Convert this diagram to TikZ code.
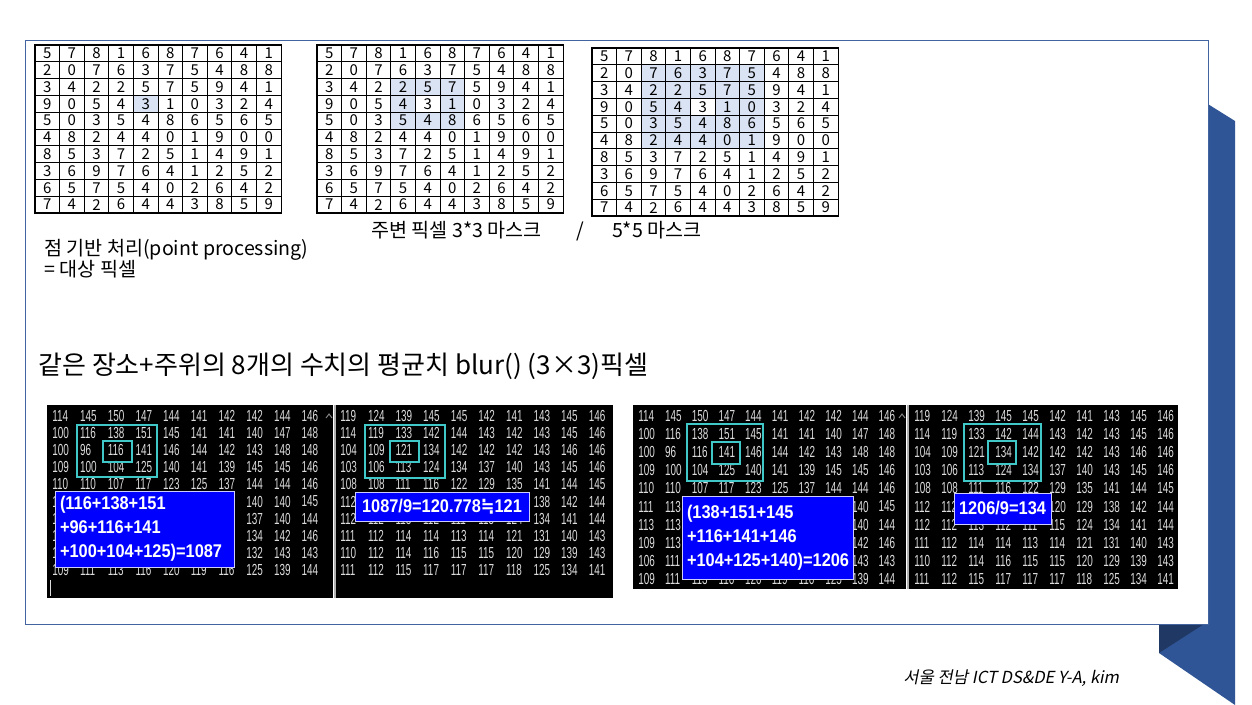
\documentclass[tikz,border=0pt]{standalone}
\usepackage{fontspec}
\setmainfont{Noto Sans CJK KR}
\newfontfamily\consfont[FakeStretch=0.62]{Liberation Sans}
\newfontfamily\boxfont[FakeStretch=0.89]{Liberation Sans}
\newfontfamily\symfont[FakeStretch=0.89]{DejaVu Sans}
\newfontfamily\footfont[FakeSlant=0.2]{Noto Sans CJK KR}
\usetikzlibrary{backgrounds}

\definecolor{slideblue}{RGB}{47,85,151}
\definecolor{slidedark}{RGB}{31,56,100}
\definecolor{framecol}{RGB}{68,100,160}
\definecolor{maskfill}{RGB}{218,227,243}
\definecolor{conscyan}{RGB}{64,200,200}
\definecolor{consgray}{RGB}{220,220,220}

\begin{document}
\begin{tikzpicture}[x=0.5pt, y=-0.5pt,
	cell/.style={draw, line width=0.4pt, inner sep=0pt, minimum width=12.3pt, minimum height=8.4pt, font=\fontsize{7.5}{8}\selectfont},
	num/.style={anchor=west, inner sep=0pt, text=consgray, font=\consfont\fontsize{8}{8}\selectfont},
	winbox/.style={draw=conscyan, line width=1pt},
	sumbox/.style={fill=blue, draw=white!80!blue, line width=0.5pt, text=white, inner sep=2.5pt, font=\boxfont\bfseries\fontsize{9.2}{12}\selectfont},
	lbl/.style={anchor=west, inner sep=0pt, font=\fontsize{9.8}{10}\selectfont}]
	\useasboundingbox (0,0) rectangle (1252,705);

	% Slide {page, ribbon, frame}
	\begin{scope}[on background layer]
		\fill[white] (0,0) rectangle (1252,705);
		\fill[slideblue] (1150,68) -- (1235,121) -- (1235,705) -- (1159,653) -- (1159,600) -- cycle;
		\fill[slidedark] (1159,624) -- (1204,624) -- (1159,653) -- cycle;
		\draw[framecol, line width=0.5pt, fill=white] (25,41) rectangle (1208,624);
	\end{scope}

	% Pixel grids {ga, gb, gc}
	\foreach \g/\gx/\gy in {ga/35/45, gb/317/45, gc/592/48} {
		\foreach \row [count=\r from 0] in {{5,7,8,1,6,8,7,6,4,1}, {2,0,7,6,3,7,5,4,8,8},
			{3,4,2,2,5,7,5,9,4,1}, {9,0,5,4,3,1,0,3,2,4}, {5,0,3,5,4,8,6,5,6,5},
			{4,8,2,4,4,0,1,9,0,0}, {8,5,3,7,2,5,1,4,9,1}, {3,6,9,7,6,4,1,2,5,2},
			{6,5,7,5,4,0,2,6,4,2}, {7,4,2,6,4,4,3,8,5,9}} {
			\foreach \v [count=\c from 0] in \row
				\node[cell] (\g-\r-\c) at (\gx+24.6*\c+12.3, \gy+16.8*\r+8.4) {\v};
		}
		\draw[line width=0.9pt] (\g-0-0.north west) rectangle (\g-9-9.south east);
	}

	% Masks
	\begin{scope}[on background layer]
		\fill[maskfill] (ga-3-4.north west) rectangle (ga-3-4.south east);
		\fill[maskfill] (gb-2-3.north west) rectangle (gb-4-5.south east);
		\fill[white] (gb-3-4.north west) rectangle (gb-3-4.south east);
		\fill[maskfill] (gc-1-2.north west) rectangle (gc-5-6.south east);
		\fill[white] (gc-3-4.north west) rectangle (gc-3-4.south east);
	\end{scope}

	% Labels
	\node[lbl, align=left] (pointlbl) at (44,259) {점 기반 처리(point processing)\\[-1pt]= 대상 픽셀};
	\node[lbl] (masklbl) at (371,231) {주변 픽셀 3*3 마스크\hspace{1.8em}/\hspace{1.4em}5*5 마스크};
	\node[lbl, font=\fontsize{13}{14}\selectfont] (blurlbl) at (38,366)
		{같은 장소+주위의 8개의 수치의 평균치 blur() (3×3)픽셀};
	\node[lbl, font=\footfont\fontsize{8.3}{9}\selectfont] (credit) at (903,678) {서울 전남 ICT DS\&DE Y-A, kim};

	% Console windows
	\fill[black] (47,405) rectangle (333,598);
	\fill[black] (336,405) rectangle (613,598);
	\fill[black] (633,405) rectangle (906,589);
	\fill[black] (909,405) rectangle (1178,589);
	\draw[gray!60, line width=1pt] (334.5,405) -- (334.5,598);
	\draw[gray!60, line width=1pt] (907.5,405) -- (907.5,589);
	\draw[gray, line width=0.5pt] (326,418) -- (329,414) -- (332,418);
	\draw[gray, line width=0.5pt] (899,418) -- (902,414) -- (905,418);
	\draw[consgray, line width=0.5pt] (50,580) -- (50,596);

	% Input values
	\foreach \p/\px/\dx/\dy in {pa/52/27.7/17.1, pc/638/26.7/18.1} {
		\foreach \row [count=\r] in {{114,145,150,147,144,141,142,142,144,146},
			{100,116,138,151,145,141,141,140,147,148}, {100,96,116,141,146,144,142,143,148,148},
			{109,100,104,125,140,141,139,145,145,146}, {110,110,107,117,123,125,137,144,144,146},
			{111,113,,,,,,140,140,145}, {113,113,,,,,,137,140,144},
			{109,113,,,,,,134,142,146}, {106,111,,,,,,132,143,143},
			{109,111,113,116,120,119,116,125,139,144}} {
			\foreach \v [count=\c] in \row {
				\ifx\v\empty\else
				\node[num] (\p-\r-\c) at (\px+\c*\dx-\dx, 416+\r*\dy-\dy) {\v};
				\fi
			}
		}
	}

	% Blurred values
	\foreach \p/\px/\dx/\dy in {pb/340/27.6/17.1, pd/914/27/18.1} {
		\foreach \row [count=\r] in {{119,124,139,145,145,142,141,143,145,146},
			{114,119,133,142,144,143,142,143,145,146}, {104,109,121,134,142,142,142,143,146,146},
			{103,106,113,124,134,137,140,143,145,146}, {108,108,111,116,122,129,135,141,144,145},
			{112,112,,,,120,129,138,142,144}, {112,112,113,112,111,115,124,134,141,144},
			{111,112,114,114,113,114,121,131,140,143}, {110,112,114,116,115,115,120,129,139,143},
			{111,112,115,117,117,117,118,125,134,141}} {
			\foreach \v [count=\c] in \row {
				\ifx\v\empty\else
				\node[num] (\p-\r-\c) at (\px+\c*\dx-\dx, 416+\r*\dy-\dy) {\v};
				\fi
			}
		}
	}

	% Windows 3x3 and centre
	\draw[winbox] (77,425) rectangle (157,477);
	\draw[winbox] (103,441) rectangle (132,462);
	\draw[winbox] (365,425) rectangle (445,478);
	\draw[winbox] (390,441) rectangle (419,462);
	\draw[winbox] (687,424) rectangle (763,481);
	\draw[winbox] (712,442) rectangle (740,464);
	\draw[winbox] (964,424) rectangle (1041,481);
	\draw[winbox] (988,441) rectangle (1016,464);

	% Sums and averages
	\node[sumbox, text width=84.5pt, minimum height=38pt, align=left] (suma) at (144.5,529)
		{(116+138+151\\+96+116+141\\+100+104+125)=1087};
	\node[sumbox, minimum width=87pt, minimum height=14.5pt] (avga) at (442,506.5)
		{1087/9=120.778{\symfont ≒}121};
	\node[sumbox, text width=80.5pt, minimum height=41.5pt, align=left] (sumc) at (767.5,537.5)
		{(138+151+145\\+116+141+146\\+104+125+140)=1206};
	\node[sumbox, minimum width=48.5pt, minimum height=15.5pt] (avgc) at (1002.5,508.5) {1206/9=134};

\end{tikzpicture}
\end{document}
